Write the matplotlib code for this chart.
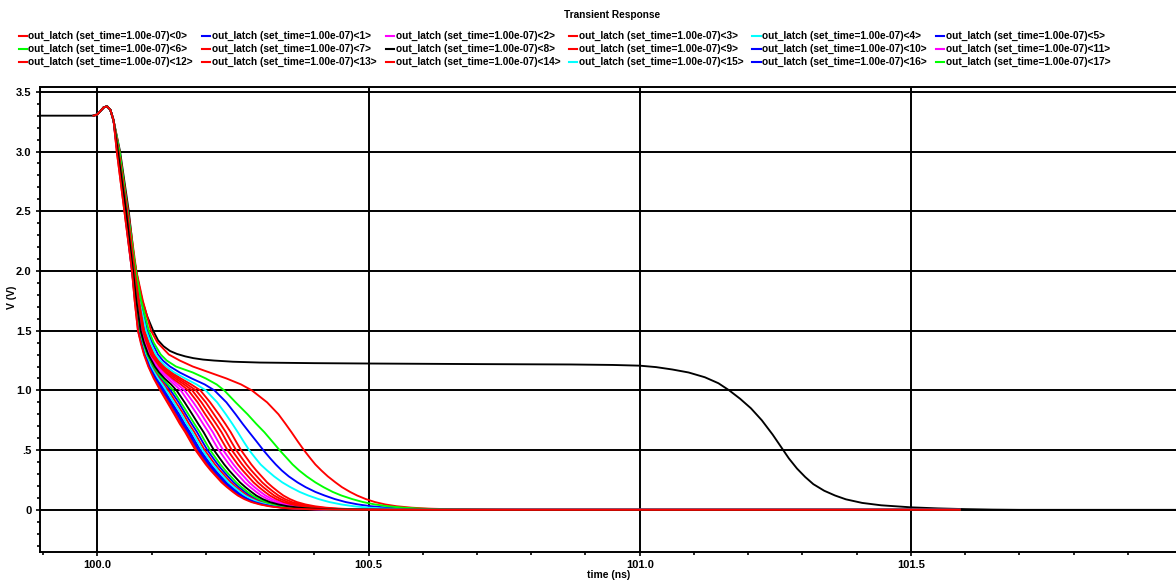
import matplotlib
matplotlib.use("Agg")
import matplotlib.pyplot as plt
from matplotlib.lines import Line2D
from matplotlib.ticker import MultipleLocator

plt.rcParams['font.family'] = ['Liberation Sans', 'DejaVu Sans']
plt.rcParams['font.weight'] = 'bold'

# ---------------- data ----------------
title = "Transient Response"
x_label = "time (ns)"
y_label = "V (V)"
x_ticks = [100.0, 100.5, 101.0, 101.5]
x_tick_labels = ["100.0", "100.5", "101.0", "101.5"]
y_ticks = [0.0, 0.5, 1.0, 1.5, 2.0, 2.5, 3.0, 3.5]
y_tick_labels = ["0", ".5", "1.0", "1.5", "2.0", "2.5", "3.0", "3.5"]

legend_labels = ["out_latch (set_time=1.00e-07)<%d>" % i for i in range(18)]
legend_colors = ["#ff0000", "#0000ff", "#ff00ff", "#ff0000", "#00ffff", "#0000ff",
                 "#00ff00", "#ff0000", "#000000", "#ff0000", "#0000ff", "#ff00ff",
                 "#ff0000", "#ff0000", "#ff0000", "#00ffff", "#0000ff", "#00ff00"]

# common start of every trace (time ns, volts)
head_t = [99.993, 100.000, 100.006, 100.012, 100.018, 100.024, 100.030]
head_v = [3.30, 3.31, 3.34, 3.37, 3.378, 3.35, 3.26]

# falling part: time (ns) at which each trace crosses these voltage levels
fall_levels = [3.0, 2.5, 2.0, 1.75, 1.5, 1.4, 1.3, 1.25, 1.2, 1.15, 1.1, 1.05, 1.0, 0.9, 0.8,
               0.72, 0.65, 0.57, 0.5, 0.43, 0.38, 0.33, 0.28, 0.23, 0.19, 0.15,
               0.12, 0.09, 0.065, 0.045, 0.03, 0.018, 0.01, 0.004, 0.0]
end_t = 101.59

t_out0 = [100.041, 100.057,
          100.072, 100.084, 100.099, 100.111, 100.132, 100.152, 100.176, 100.207, 100.238, 100.265, 100.285, 100.313, 100.334,
          100.347, 100.358, 100.370, 100.381, 100.393, 100.402, 100.413, 100.425, 100.439, 100.451, 100.466, 100.479, 100.495,
          100.512, 100.531, 100.552, 100.580, 100.610, 100.660, 100.780]
t_out1 = [100.040, 100.056,
          100.070, 100.079, 100.092, 100.101, 100.112, 100.121, 100.134, 100.152, 100.174, 100.198, 100.216, 100.238, 100.255,
          100.268, 100.280, 100.294, 100.306, 100.319, 100.329, 100.340, 100.353, 100.369, 100.384, 100.402, 100.419, 100.438,
          100.458, 100.481, 100.505, 100.535, 100.565, 100.615, 100.720]
t_out2 = [100.039, 100.054,
          100.067, 100.074, 100.083, 100.089, 100.097, 100.104, 100.112, 100.122, 100.135, 100.148, 100.161, 100.177, 100.192,
          100.203, 100.213, 100.223, 100.232, 100.243, 100.251, 100.260, 100.270, 100.280, 100.290, 100.301, 100.310, 100.322,
          100.335, 100.351, 100.368, 100.389, 100.411, 100.451, 100.531]
t_out3 = [100.040, 100.055,
          100.069, 100.077, 100.088, 100.095, 100.105, 100.114, 100.123, 100.137, 100.154, 100.173, 100.190, 100.208, 100.224,
          100.236, 100.246, 100.256, 100.265, 100.276, 100.284, 100.293, 100.303, 100.313, 100.323, 100.334, 100.343, 100.355,
          100.368, 100.384, 100.401, 100.422, 100.444, 100.484, 100.550]
t_out4 = [100.040, 100.055,
          100.070, 100.078, 100.090, 100.098, 100.108, 100.116, 100.127, 100.142, 100.162, 100.183, 100.200, 100.221, 100.237,
          100.249, 100.259, 100.270, 100.280, 100.292, 100.301, 100.313, 100.326, 100.341, 100.356, 100.373, 100.389, 100.408,
          100.428, 100.450, 100.473, 100.500, 100.530, 100.580, 100.680]
t_out5 = [100.038, 100.052,
          100.065, 100.071, 100.078, 100.084, 100.091, 100.096, 100.102, 100.109, 100.117, 100.127, 100.135, 100.150, 100.163,
          100.174, 100.184, 100.194, 100.203, 100.214, 100.222, 100.231, 100.241, 100.251, 100.261, 100.272, 100.281, 100.293,
          100.306, 100.322, 100.339, 100.360, 100.382, 100.422, 100.513]
t_out6 = [100.041, 100.056,
          100.071, 100.081, 100.095, 100.104, 100.117, 100.128, 100.145, 100.176, 100.200, 100.220, 100.234, 100.255, 100.277,
          100.293, 100.308, 100.323, 100.336, 100.350, 100.360, 100.372, 100.386, 100.402, 100.417, 100.434, 100.450, 100.470,
          100.490, 100.512, 100.536, 100.565, 100.595, 100.645, 100.750]
t_out7 = [100.039, 100.055,
          100.069, 100.077, 100.086, 100.094, 100.103, 100.111, 100.120, 100.133, 100.149, 100.166, 100.182, 100.200, 100.215,
          100.227, 100.237, 100.247, 100.256, 100.267, 100.275, 100.284, 100.294, 100.304, 100.314, 100.325, 100.334, 100.346,
          100.359, 100.375, 100.392, 100.413, 100.435, 100.475, 100.545]
t_out9 = [100.039, 100.054,
          100.068, 100.076, 100.085, 100.092, 100.101, 100.109, 100.118, 100.129, 100.144, 100.160, 100.175, 100.192, 100.207,
          100.219, 100.229, 100.239, 100.248, 100.259, 100.267, 100.276, 100.286, 100.296, 100.306, 100.317, 100.326, 100.338,
          100.351, 100.367, 100.384, 100.405, 100.427, 100.467, 100.540]
t_out10 = [100.037, 100.051,
           100.065, 100.070, 100.076, 100.082, 100.088, 100.093, 100.097, 100.103, 100.109, 100.117, 100.124, 100.137, 100.151,
           100.161, 100.171, 100.181, 100.190, 100.201, 100.209, 100.218, 100.228, 100.238, 100.248, 100.259, 100.268, 100.280,
           100.293, 100.309, 100.326, 100.347, 100.369, 100.409, 100.505]
t_out11 = [100.038, 100.053,
           100.067, 100.073, 100.082, 100.088, 100.096, 100.102, 100.109, 100.118, 100.130, 100.142, 100.154, 100.169, 100.184,
           100.195, 100.205, 100.215, 100.224, 100.235, 100.243, 100.252, 100.262, 100.272, 100.282, 100.293, 100.302, 100.314,
           100.327, 100.343, 100.360, 100.381, 100.403, 100.443, 100.526]
t_out12 = [100.039, 100.054,
           100.068, 100.075, 100.084, 100.091, 100.099, 100.107, 100.115, 100.126, 100.139, 100.154, 100.168, 100.185, 100.199,
           100.211, 100.221, 100.231, 100.240, 100.251, 100.259, 100.268, 100.278, 100.288, 100.298, 100.309, 100.318, 100.330,
           100.343, 100.359, 100.376, 100.397, 100.419, 100.459, 100.535]
t_out13 = [100.037, 100.052,
           100.065, 100.071, 100.078, 100.083, 100.090, 100.095, 100.100, 100.107, 100.114, 100.123, 100.131, 100.145, 100.159,
           100.169, 100.179, 100.189, 100.198, 100.209, 100.217, 100.226, 100.236, 100.246, 100.256, 100.267, 100.276, 100.288,
           100.301, 100.317, 100.334, 100.355, 100.377, 100.417, 100.510]
t_out14 = [100.036, 100.050,
           100.064, 100.069, 100.075, 100.081, 100.087, 100.091, 100.095, 100.100, 100.106, 100.112, 100.119, 100.132, 100.145,
           100.155, 100.165, 100.175, 100.184, 100.195, 100.203, 100.212, 100.222, 100.232, 100.242, 100.253, 100.262, 100.274,
           100.287, 100.303, 100.320, 100.341, 100.363, 100.403, 100.502]
t_out15 = [100.037, 100.051,
           100.065, 100.070, 100.077, 100.082, 100.089, 100.094, 100.099, 100.105, 100.112, 100.120, 100.127, 100.141, 100.155,
           100.165, 100.175, 100.185, 100.194, 100.205, 100.213, 100.222, 100.232, 100.242, 100.252, 100.263, 100.272, 100.284,
           100.297, 100.313, 100.330, 100.351, 100.373, 100.413, 100.508]
t_out16 = [100.037, 100.051,
           100.064, 100.070, 100.076, 100.081, 100.087, 100.092, 100.096, 100.102, 100.108, 100.115, 100.121, 100.135, 100.148,
           100.158, 100.168, 100.178, 100.187, 100.198, 100.206, 100.215, 100.225, 100.235, 100.245, 100.256, 100.265, 100.277,
           100.290, 100.306, 100.323, 100.344, 100.366, 100.406, 100.504]
t_out17 = [100.038, 100.052,
           100.066, 100.072, 100.079, 100.085, 100.092, 100.098, 100.104, 100.111, 100.120, 100.130, 100.140, 100.154, 100.168,
           100.179, 100.189, 100.199, 100.208, 100.219, 100.227, 100.236, 100.246, 100.256, 100.266, 100.277, 100.286, 100.298,
           100.311, 100.327, 100.344, 100.365, 100.387, 100.427, 100.516]
# traces without a legend entry
t_extra_black = [100.038, 100.053,
                 100.066, 100.072, 100.080, 100.086, 100.094, 100.100, 100.106, 100.114, 100.124, 100.136, 100.146, 100.161, 100.175,
                 100.186, 100.196, 100.206, 100.215, 100.226, 100.234, 100.243, 100.253, 100.263, 100.273, 100.284, 100.293, 100.305,
                 100.318, 100.334, 100.351, 100.372, 100.394, 100.434, 100.520]
t_extra_red = [100.036, 100.050,
               100.064, 100.069, 100.075, 100.080, 100.086, 100.090, 100.094, 100.099, 100.104, 100.110, 100.116, 100.129, 100.142,
               100.152, 100.162, 100.172, 100.181, 100.192, 100.200, 100.209, 100.219, 100.229, 100.239, 100.250, 100.259, 100.271,
               100.284, 100.300, 100.317, 100.338, 100.360, 100.400, 100.500]

# metastable trace <8>
meta_start_t = [99.894]
meta_tail_t = [100.042, 100.058,
               100.068, 100.075, 100.083, 100.092, 100.103, 100.112, 100.122, 100.134, 100.147, 100.162, 100.177,
               100.195, 100.215, 100.250, 100.300, 100.400, 100.500, 100.707, 100.873, 100.950, 101.000, 101.030,
               101.060, 101.090, 101.120, 101.145, 101.165, 101.185, 101.205, 101.225, 101.245, 101.260, 101.275,
               101.290, 101.305, 101.320, 101.340, 101.360, 101.380, 101.410, 101.445, 101.500, 101.550, 101.600,
               101.650, 101.700, 102.100]
meta_tail_v = [3.00, 2.50,
               2.10, 1.92, 1.75, 1.62, 1.50, 1.42, 1.37, 1.33, 1.305, 1.285, 1.27,
               1.258, 1.25, 1.24, 1.233, 1.228, 1.225, 1.22, 1.217, 1.213, 1.207, 1.195,
               1.175, 1.15, 1.11, 1.06, 1.00, 0.93, 0.85, 0.75, 0.63, 0.53, 0.43,
               0.345, 0.275, 0.215, 0.16, 0.12, 0.088, 0.058, 0.038, 0.021, 0.012, 0.006,
               0.002, 0.0, 0.0]

fall_times = {0: t_out0, 1: t_out1, 2: t_out2, 3: t_out3, 4: t_out4, 5: t_out5,
              6: t_out6, 7: t_out7, 9: t_out9, 10: t_out10, 11: t_out11,
              12: t_out12, 13: t_out13, 14: t_out14, 15: t_out15, 16: t_out16,
              17: t_out17}

# ---------------- figure ----------------
W, H = 1176, 583
fig = plt.figure(figsize=(W / 100, H / 100), dpi=100)
ax_left, ax_right, ax_top, ax_bottom = 40, 1186, 87, 552
ax = fig.add_axes([ax_left / W, 1 - ax_bottom / H, (ax_right - ax_left) / W,
                   (ax_bottom - ax_top) / H])
ax.set_xlim(99.8944, 102.007)
ax.set_ylim(-0.353, 3.54)

lw = 1.35
# metastable first (so the others sit on top near 0 V)
ax.plot(meta_start_t + head_t + meta_tail_t, [3.30] + head_v + meta_tail_v,
        color="#000000", lw=lw, zorder=3)
for i in range(18):
    if i == 8:
        continue
    tt = head_t + fall_times[i] + [end_t]
    vv = head_v + fall_levels + [0.0]
    ax.plot(tt, vv, color=legend_colors[i], lw=lw, zorder=3)
ax.plot(head_t + t_extra_black + [end_t], head_v + fall_levels + [0.0],
        color="#000000", lw=lw, zorder=3)
ax.plot(head_t + t_extra_red + [end_t], head_v + fall_levels + [0.0],
        color="#ff0000", lw=lw, zorder=3)

# axes styling
ax.set_xticks(x_ticks)
ax.set_xticklabels(x_tick_labels)
ax.set_yticks(y_ticks)
ax.set_yticklabels(y_tick_labels)
ax.xaxis.set_minor_locator(MultipleLocator(0.1))
ax.yaxis.set_minor_locator(MultipleLocator(0.1))
ax.grid(True, which="major", color="black", lw=1.4)
ax.set_axisbelow(True)
ax.tick_params(which="major", direction="out", length=3, width=1.2,
               labelsize=8, pad=3)
ax.tick_params(which="minor", direction="out", length=2.5, width=1.2)
for lab in ax.get_xticklabels() + ax.get_yticklabels():
    lab.set_fontweight("bold")
for side in ["left", "bottom", "top"]:
    ax.spines[side].set_linewidth(1.4)
ax.spines["right"].set_visible(False)

# labels and title
fig.text(612 / W, 1 - 15 / H, title, ha="center", va="center",
         fontsize=7.3, fontweight="bold")
fig.text(609 / W, 1 - 575 / H, x_label, ha="center", va="center",
         fontsize=7.5, fontweight="bold")
fig.text(12 / W, 1 - 297 / H, y_label, ha="center", va="center",
         rotation=90, fontsize=7.5, fontweight="bold")

# legend: 3 rows x 6 columns
col_x0 = 18.5
col_step = 183.5
row_y = [35.5, 48.5, 61.5]
for i, (lab, col) in enumerate(zip(legend_labels, legend_colors)):
    r, c = divmod(i, 6)
    x0 = col_x0 + c * col_step
    y = 1 - row_y[r] / H
    fig.add_artist(Line2D([x0 / W, (x0 + 8) / W], [y, y], color=col, lw=1.5,
                          transform=fig.transFigure))
    fig.text((x0 + 10) / W, y, lab, ha="left", va="center", fontsize=7.3,
             fontweight="bold")

fig.savefig("out.png", dpi=100)
